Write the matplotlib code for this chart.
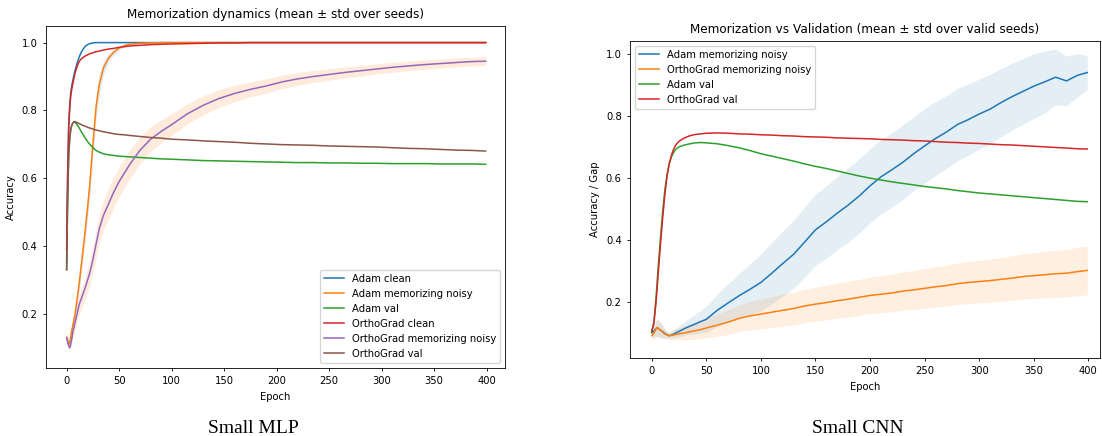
import matplotlib
matplotlib.use("Agg")
import matplotlib.pyplot as plt
import numpy as np

# ---------------- Small MLP (left) ----------------
ep_mlp = [0, 1, 2, 3, 4, 5, 6, 7, 8, 10, 12, 14, 16, 18, 20, 22, 25, 28, 31, 35, 40, 45, 50, 55, 60,
          70, 80, 90, 100, 115, 130, 145, 160, 175, 190, 205, 220, 235, 250, 265, 280, 295, 310,
          325, 340, 355, 370, 385, 399]

adam_clean = [0.35, 0.62, 0.76, 0.82, 0.855, 0.875, 0.89, 0.905, 0.918, 0.94, 0.958, 0.972, 0.982,
              0.99, 0.994, 0.997, 0.999, 1.0, 1.0, 1.0, 1.0, 1.0, 1.0, 1.0, 1.0,
              1.0, 1.0, 1.0, 1.0, 1.0, 1.0, 1.0, 1.0, 1.0, 1.0, 1.0, 1.0, 1.0, 1.0, 1.0, 1.0, 1.0, 1.0,
              1.0, 1.0, 1.0, 1.0, 1.0, 1.0]

adam_mem = [0.13, 0.12, 0.11, 0.118, 0.135, 0.152, 0.168, 0.183, 0.198, 0.245, 0.29, 0.345, 0.40,
            0.455, 0.515, 0.58, 0.70, 0.81, 0.875, 0.925, 0.955, 0.972, 0.984, 0.991, 0.995,
            0.998, 0.999, 1.0, 1.0, 1.0, 1.0, 1.0, 1.0, 1.0, 1.0, 1.0, 1.0, 1.0, 1.0, 1.0, 1.0, 1.0, 1.0,
            1.0, 1.0, 1.0, 1.0, 1.0, 1.0]
adam_mem_std = [0.01, 0.01, 0.01, 0.01, 0.012, 0.014, 0.016, 0.018, 0.02, 0.022, 0.025, 0.027, 0.03,
                0.032, 0.035, 0.037, 0.04, 0.035, 0.03, 0.02, 0.012, 0.008, 0.005, 0.004, 0.003,
                0.002, 0.001, 0.0, 0.0, 0.0, 0.0, 0.0, 0.0, 0.0, 0.0, 0.0, 0.0, 0.0, 0.0, 0.0, 0.0, 0.0, 0.0,
                0.0, 0.0, 0.0, 0.0, 0.0, 0.0]

adam_val = [0.33, 0.55, 0.67, 0.72, 0.745, 0.757, 0.763, 0.766, 0.765, 0.758, 0.748, 0.737, 0.727,
            0.717, 0.708, 0.70, 0.69, 0.682, 0.677, 0.672, 0.669, 0.667, 0.665, 0.664, 0.663,
            0.661, 0.659, 0.657, 0.656, 0.654, 0.652, 0.651, 0.650, 0.649, 0.648, 0.647, 0.646, 0.646,
            0.645, 0.645, 0.644, 0.644, 0.643, 0.643, 0.643, 0.642, 0.642, 0.642, 0.641]

ortho_clean = [0.39, 0.62, 0.75, 0.81, 0.845, 0.865, 0.88, 0.895, 0.91, 0.93, 0.945, 0.952, 0.957,
               0.961, 0.964, 0.967, 0.970, 0.973, 0.975, 0.978, 0.981, 0.983, 0.986, 0.988, 0.99,
               0.992, 0.994, 0.995, 0.996, 0.997, 0.998, 0.999, 0.999, 1.0, 1.0, 1.0, 1.0, 1.0, 1.0,
               1.0, 1.0, 1.0, 1.0, 1.0, 1.0, 1.0, 1.0, 1.0, 1.0]

ortho_mem = [0.13, 0.115, 0.105, 0.10, 0.112, 0.128, 0.148, 0.16, 0.175, 0.20, 0.228, 0.245, 0.262,
             0.28, 0.30, 0.32, 0.36, 0.405, 0.45, 0.49, 0.525, 0.56, 0.59, 0.615, 0.64,
             0.683, 0.715, 0.738, 0.758, 0.79, 0.815, 0.835, 0.85, 0.862, 0.872, 0.884, 0.893, 0.90,
             0.906, 0.912, 0.917, 0.922, 0.927, 0.931, 0.935, 0.938, 0.941, 0.944, 0.945]
ortho_mem_std = [0.01, 0.012, 0.012, 0.012, 0.014, 0.016, 0.018, 0.02, 0.022, 0.025, 0.028, 0.03, 0.032,
                 0.034, 0.036, 0.038, 0.04, 0.042, 0.043, 0.044, 0.045, 0.045, 0.044, 0.043, 0.042,
                 0.04, 0.037, 0.034, 0.032, 0.03, 0.028, 0.026, 0.024, 0.022, 0.021, 0.02, 0.019, 0.018,
                 0.017, 0.016, 0.016, 0.015, 0.015, 0.014, 0.014, 0.014, 0.013, 0.013, 0.013]

ortho_val = [0.33, 0.55, 0.67, 0.72, 0.745, 0.757, 0.763, 0.766, 0.767, 0.764, 0.761, 0.758, 0.755,
             0.753, 0.75, 0.748, 0.745, 0.742, 0.74, 0.737, 0.734, 0.731, 0.729, 0.728, 0.726,
             0.723, 0.72, 0.718, 0.715, 0.713, 0.71, 0.708, 0.706, 0.703, 0.701, 0.699, 0.698, 0.697,
             0.695, 0.694, 0.693, 0.692, 0.69, 0.688, 0.687, 0.685, 0.683, 0.682, 0.68]

# ---------------- Small CNN (right) ----------------
ep_cnn = [0, 2, 4, 5, 6, 8, 10, 12, 14, 16, 18, 20, 22, 25, 30, 35, 40, 45, 50,
          60, 70, 80, 90, 100, 110, 120, 130, 140, 150, 160, 170, 180, 190, 200,
          210, 220, 230, 240, 250, 260, 270, 280, 290, 300, 310, 320, 330, 340,
          350, 360, 370, 380, 390, 399]

cnn_adam_mem = [0.100, 0.105, 0.113, 0.116, 0.113, 0.108, 0.103, 0.097, 0.093, 0.090, 0.092, 0.095,
                0.099, 0.104, 0.113, 0.121, 0.128, 0.136, 0.143,
                0.172, 0.196, 0.219, 0.240, 0.262, 0.292, 0.323, 0.353, 0.392, 0.432, 0.458, 0.486,
                0.512, 0.541, 0.574,
                0.603, 0.626, 0.650, 0.678, 0.703, 0.727, 0.748, 0.772, 0.788, 0.806, 0.822, 0.843,
                0.862, 0.879,
                0.896, 0.910, 0.925, 0.913, 0.931, 0.940]
cnn_adam_mem_std = [0.015, 0.02, 0.025, 0.028, 0.027, 0.025, 0.02, 0.015, 0.01, 0.008, 0.01, 0.012,
                    0.015, 0.018, 0.022, 0.027, 0.032, 0.037, 0.042,
                    0.052, 0.062, 0.072, 0.082, 0.092, 0.1, 0.105, 0.11, 0.113, 0.115, 0.117, 0.118,
                    0.12, 0.12, 0.12,
                    0.12, 0.12, 0.12, 0.12, 0.12, 0.12, 0.118, 0.117, 0.115, 0.113, 0.112, 0.11,
                    0.108, 0.106,
                    0.104, 0.1, 0.09, 0.08, 0.07, 0.055]

cnn_ortho_mem = [0.090, 0.098, 0.112, 0.117, 0.114, 0.108, 0.102, 0.096, 0.092, 0.090, 0.091, 0.092,
                 0.094, 0.096, 0.099, 0.103, 0.106, 0.110, 0.115,
                 0.124, 0.134, 0.146, 0.154, 0.160, 0.166, 0.172, 0.178, 0.186, 0.192, 0.197, 0.203,
                 0.208, 0.214, 0.220,
                 0.224, 0.228, 0.234, 0.238, 0.243, 0.248, 0.252, 0.258, 0.262, 0.265, 0.268, 0.272,
                 0.276, 0.281,
                 0.284, 0.287, 0.290, 0.292, 0.297, 0.301]
cnn_ortho_mem_std = [0.015, 0.02, 0.025, 0.028, 0.027, 0.025, 0.02, 0.015, 0.012, 0.012, 0.014, 0.015,
                     0.017, 0.02, 0.022, 0.025, 0.028, 0.03, 0.032,
                     0.036, 0.04, 0.043, 0.046, 0.048, 0.05, 0.052, 0.053, 0.054, 0.055, 0.056, 0.057,
                     0.058, 0.058, 0.059,
                     0.06, 0.061, 0.062, 0.063, 0.064, 0.065, 0.066, 0.067, 0.068, 0.069, 0.07, 0.071,
                     0.072, 0.073,
                     0.074, 0.075, 0.076, 0.077, 0.078, 0.079]

cnn_adam_val = [0.100, 0.135, 0.215, 0.265, 0.315, 0.405, 0.490, 0.560, 0.610, 0.645, 0.667, 0.682,
                0.692, 0.700, 0.706, 0.710, 0.713, 0.714, 0.713,
                0.710, 0.704, 0.697, 0.688, 0.678, 0.670, 0.662, 0.654, 0.645, 0.637, 0.630, 0.622,
                0.614, 0.606, 0.599,
                0.593, 0.587, 0.582, 0.577, 0.572, 0.568, 0.564, 0.559, 0.555, 0.551, 0.548, 0.545,
                0.542, 0.539,
                0.536, 0.533, 0.530, 0.527, 0.524, 0.523]

cnn_ortho_val = [0.105, 0.13, 0.20, 0.245, 0.295, 0.385, 0.47, 0.545, 0.605, 0.645, 0.672, 0.692,
                 0.706, 0.718, 0.729, 0.736, 0.740, 0.742, 0.744,
                 0.745, 0.744, 0.742, 0.741, 0.739, 0.738, 0.736, 0.735, 0.733, 0.732, 0.731, 0.729,
                 0.728, 0.727, 0.726,
                 0.724, 0.723, 0.722, 0.720, 0.719, 0.717, 0.715, 0.714, 0.712, 0.711, 0.709, 0.707,
                 0.706, 0.704,
                 0.702, 0.700, 0.698, 0.696, 0.694, 0.693]

plt.rcParams['font.size'] = 7.2
plt.rcParams['axes.linewidth'] = 0.6
plt.rcParams['xtick.major.width'] = 0.6
plt.rcParams['ytick.major.width'] = 0.6
plt.rcParams['xtick.major.size'] = 2.5
plt.rcParams['ytick.major.size'] = 2.5
plt.rcParams['legend.fontsize'] = 7.2

fig = plt.figure(figsize=(11.02, 4.36), dpi=100)
ax1 = fig.add_axes([0.0417, 0.1567, 0.4168, 0.7837])
ax2 = fig.add_axes([0.5717, 0.1789, 0.4265, 0.7271])

lw = 1.1

# left panel
ep = np.array(ep_mlp)
ax1.plot(ep, adam_clean, color='C0', lw=lw, label='Adam clean')
ax1.plot(ep, adam_mem, color='C1', lw=lw, label='Adam memorizing noisy')
m, s = np.array(adam_mem), np.array(adam_mem_std)
ax1.fill_between(ep, m - s, m + s, color='C0', alpha=0.15, lw=0)
ax1.plot(ep, adam_val, color='C2', lw=lw, label='Adam val')
ax1.plot(ep, ortho_clean, color='C3', lw=lw, label='OrthoGrad clean')
ax1.plot(ep, ortho_mem, color='C4', lw=lw, label='OrthoGrad memorizing noisy')
m, s = np.array(ortho_mem), np.array(ortho_mem_std)
ax1.fill_between(ep, m - s, m + s, color='C1', alpha=0.15, lw=0)
ax1.plot(ep, ortho_val, color='C5', lw=lw, label='OrthoGrad val')
ax1.set_xlim(-19.7, 417.7)
ax1.set_ylim(0.041, 1.049)
ax1.set_yticks([0.2, 0.4, 0.6, 0.8, 1.0])
ax1.set_title('Memorization dynamics (mean ± std over seeds)')
ax1.set_xlabel('Epoch')
ax1.set_ylabel('Accuracy')
ax1.legend(loc='lower right')

# right panel
ep = np.array(ep_cnn)
ax2.plot(ep, cnn_adam_mem, color='C0', lw=lw, label='Adam memorizing noisy')
m, s = np.array(cnn_adam_mem), np.array(cnn_adam_mem_std)
ax2.fill_between(ep, m - s, m + s, color='C0', alpha=0.12, lw=0)
ax2.plot(ep, cnn_ortho_mem, color='C1', lw=lw, label='OrthoGrad memorizing noisy')
m, s = np.array(cnn_ortho_mem), np.array(cnn_ortho_mem_std)
ax2.fill_between(ep, m - s, m + s, color='C1', alpha=0.12, lw=0)
ax2.plot(ep, cnn_adam_val, color='C2', lw=lw, label='Adam val')
ax2.plot(ep, cnn_ortho_val, color='C3', lw=lw, label='OrthoGrad val')
ax2.set_xlim(-19.9, 410.7)
ax2.set_ylim(0.018, 1.042)
ax2.set_yticks([0.2, 0.4, 0.6, 0.8, 1.0])
ax2.set_title('Memorization vs Validation (mean ± std over valid seeds)')
ax2.set_xlabel('Epoch')
ax2.set_ylabel('Accuracy / Gap')
ax2.legend(loc='upper left')

serif = ['Liberation Serif', 'DejaVu Serif']
fig.text(253 / 1102, 1 - 428 / 436, 'Small MLP', ha='center', va='center', fontsize=14, family=serif)
fig.text(858 / 1102, 1 - 428 / 436, 'Small CNN', ha='center', va='center', fontsize=14, family=serif)

fig.savefig('out.png', dpi=100)
